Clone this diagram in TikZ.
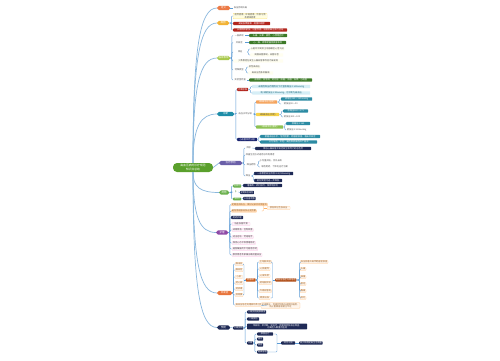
\documentclass[tikz,border=0pt]{standalone}
\usepackage{fontspec}
\setmainfont{Noto Sans CJK SC}
\definecolor{cOr}{HTML}{EC7A45}
\definecolor{cYe}{HTML}{F2B233}
\definecolor{cYg}{HTML}{A8C84A}
\definecolor{cTe}{HTML}{1E8DA8}
\definecolor{cPu}{HTML}{6A5FA8}
\definecolor{cGr}{HTML}{6AB04C}
\definecolor{cMa}{HTML}{8E4AA6}
\definecolor{cOr2}{HTML}{E8743B}
\definecolor{cDor}{HTML}{C75A1B}
\definecolor{cBrn}{HTML}{B04E18}
\definecolor{cNv}{HTML}{1F2A56}
\definecolor{cRd}{HTML}{B3261E}
\definecolor{cDg}{HTML}{3D7A28}
\definecolor{cTb}{HTML}{2C8BA3}
\definecolor{cLb}{HTML}{D6EEF6}
\definecolor{cLine}{HTML}{5B9BD5}
\definecolor{cTrunk}{HTML}{8AB8DE}
\definecolor{cCenter}{HTML}{5AA02C}
\definecolor{cTxt}{HTML}{4D4D4D}
\definecolor{cOb}{HTML}{F5A35C}
\definecolor{cYb}{HTML}{F6D24A}
\definecolor{cGb}{HTML}{8CC152}
\tikzset{
  base/.style={font=\fontsize{2.2}{2.6}\selectfont, inner xsep=0.7pt, inner ysep=0.5pt,
    rounded corners=0.6pt, anchor=west, align=center},
  mw/.style={minimum width=#1pt},
  br/.style={base, text=white, fill=#1, rounded corners=1.8pt, minimum height=4.2pt,
    font=\fontsize{2.5}{3}\selectfont},
  bx/.style={base, text=white, fill=#1},
  tx/.style={base, text=cTxt},
  pg/.style={base, text=cTxt, fill=#1},
  peach/.style={base, text=brown!80!black, fill=orange!8, draw=orange!45, line width=0.2pt},
  pink/.style={base, text=cTxt, fill=magenta!5, draw=magenta!25, line width=0.2pt},
  conn/.style={draw=cLine, line width=0.35pt, rounded corners=1pt},
  trunk/.style={draw=cTrunk, line width=0.7pt}
}
\begin{document}
\begin{tikzpicture}[x=1pt,y=-1pt]
\path[use as bounding box, fill=white] (0,0) rectangle (500,360);

% center
\node[fill=cCenter, text=white, rounded corners=4pt, minimum width=40pt, minimum height=9pt,
  font=\fontsize{2.8}{3.4}\selectfont, align=center, inner sep=0.5pt] (c) at (193,167.5)
  {高血压病的诊疗规范\\知识点总结};

% branches
\node[br=cOr, mw=13] (B1) at (217,8) {定义};
\node[br=cYe, mw=12] (B2) at (217,23) {病因};
\node[br=cYg, mw=13] (B3) at (217,58) {临床表现};
\node[br=cTe, mw=17] (B4) at (217,114) {诊断};
\node[br=cPu, mw=23] (B5) at (219,163) {治疗原则};
\node[br=cGr, mw=10] (B6) at (219,192.5) {药物};
\node[br=cMa, mw=12] (B7) at (216,232.5) {护理};
\node[br=cOr2, mw=15] (B8) at (217,293) {并发症};
\node[br=cNv, mw=13] (B9) at (217,327.5) {预防};

% trunk
\draw[trunk] (c.north) .. controls (193,47) and (200,8) .. (B1.west);
\draw[trunk] (c.north) .. controls (193,58) and (200,23) .. (B2.west);
\draw[trunk] (c.north) .. controls (193,84) and (200,58) .. (B3.west);
\draw[trunk] (c.north) .. controls (193,126) and (201,114) .. (B4.west);
\draw[trunk] (c.east) -- (B5.west);
\draw[trunk] (c.south) .. controls (193,187) and (200,192.5) .. (B6.west);
\draw[trunk] (c.south) .. controls (193,217.5) and (200,232.5) .. (B7.west);
\draw[trunk] (c.south) .. controls (193,263) and (200,293) .. (B8.west);
\draw[trunk] (c.south) .. controls (193,288.5) and (200,327.5) .. (B9.west);

% B1
\node[tx, mw=14] (t1) at (233,8) {血压持续升高};
\draw[conn] (B1.east) -- (t1.west);

% B2
\node[base, text=cTxt, fill=yellow!12, draw=yellow!60!orange!50, line width=0.2pt, mw=34] (y1) at (233,16) {遗传因素、环境因素、饮食习惯\\及精神因素};
\node[bx=cRd, mw=37] (r1) at (233,23.5) {高钠低钾膳食、超重和肥胖};
\node[bx=cRd, mw=54] (r2) at (233,30) {长期精神紧张、过量饮酒、吸烟及缺乏体力活动};
\foreach \n in {y1,r1,r2} \draw[conn] (B2.east) -- ++(2,0) |- (\n.west);

% B3
\node[tx, mw=12] (g1t) at (233,35.5) {一般表现};
\node[bx=cDg, mw=38] (g1) at (249,35.5) {头痛、头晕、疲劳、心悸等症状};
\node[tx, mw=12] (g2t) at (233,42.5) {并发症};
\node[bx=cDg, mw=37] (g2) at (249,42.5) {心、脑、肾等靶器官损害表现};
\node[tx, mw=14] (g3t) at (233,52) {体征};
\node[pg=yellow!6, mw=33] (g3a) at (250,49) {心脏听诊闻及主动脉瓣区心音亢进};
\node[pg=yellow!6, mw=33] (g3b) at (250,55) {周围血管搏动、血管杂音};
\node[pg=yellow!6, mw=50] (g4t) at (233,61) {少数患者在发生心脑血管事件后才被发现};
\node[tx, mw=12] (g5t) at (233,70) {特殊类型};
\node[pg=yellow!6, mw=12] (g5a) at (248,67) {恶性高血压};
\node[pg=yellow!6, mw=25] (g5b) at (248,73) {高血压危象及脑病};
\node[tx, mw=14] (g6t) at (233,80) {实验室检查};
\node[bx=cDg, mw=63] (g6) at (249,80) {血常规、尿常规、肾功能、血糖、血脂、血钾、心电图};
\foreach \n in {g1t,g2t,g3t,g4t,g5t,g6t} \draw[conn] (B3.east) -- ++(1.5,0) |- (\n.west);
\draw[conn] (g1t.east) -- (g1.west);
\draw[conn] (g2t.east) -- (g2.west);
\foreach \n in {g3a,g3b} \draw[conn] (g3t.east) -- ++(1,0) |- (\n.west);
\foreach \n in {g5a,g5b} \draw[conn] (g5t.east) -- ++(1,0) |- (\n.west);
\draw[conn] (g6t.east) -- (g6.west);

% B4
\node[bx=cRd, mw=11] (tr) at (237,89.5) {诊断标准};
\node[base, text=cTe!70!black, fill=cLb, mw=58] (lb1) at (252,86.5) {未使用降压药物情况下诊室收缩压≥140mmHg};
\node[base, text=cTe!70!black, fill=cLb, mw=58] (lb2) at (252,93) {和/或舒张压≥90mmHg，可诊断为高血压};
\node[tx, mw=16] (tt) at (237,114) {血压水平分级};
\node[bx=cOb, mw=21] (o1) at (256,102) {1级高血压(轻度)};
\node[bx=cTb, mw=31] (tb1) at (281,99) {收缩压140～159mmHg};
\node[tx, mw=19] (tx1) at (281,104) {舒张压90～99};
\node[base, text=cTxt, fill=cYb, mw=23] (y1b) at (256,114.5) {2级高血压(中度)};
\node[bx=cTb, mw=25] (tb2) at (283,111) {收缩压160～179};
\node[tx, mw=17] (tx2) at (283,117) {舒张压100～109};
\node[bx=cGb, mw=27] (gr1) at (256,127) {3级高血压(重度)};
\node[bx=cTb, mw=24] (tb3) at (286,123.5) {收缩压≥180};
\node[tx, mw=21] (tx3) at (286,130) {舒张压≥110mmHg};
\node[bx=cNv!85!blue, mw=20] (tn) at (237,139.5) {心血管风险分层};
\node[bx=cTb, mw=60] (tb4) at (260,136.5) {根据血压水平、危险因素、靶器官损害、临床并发症};
\node[bx=cTb, mw=57] (tb5) at (260,142) {分为低危、中危、高危和很高危四个层次};
\foreach \n in {tr,tt,tn} \draw[conn] (B4.east) -- ++(1.5,0) |- (\n.west);
\foreach \n in {lb1,lb2} \draw[conn] (tr.east) -- ++(2,0) |- (\n.west);
\foreach \n in {o1,y1b,gr1} \draw[conn] (tt.east) -- ++(1.5,0) |- (\n.west);
\foreach \n in {tb1,tx1} \draw[conn] (o1.east) -- ++(2,0) |- (\n.west);
\foreach \n in {tb2,tx2} \draw[conn] (y1b.east) -- ++(2,0) |- (\n.west);
\foreach \n in {tb3,tx3} \draw[conn] (gr1.east) -- ++(1.5,0) |- (\n.west);
\foreach \n in {tb4,tb5} \draw[conn] (tn.east) -- ++(1.5,0) |- (\n.west);

% B5
\node[tx, mw=7] (p1t) at (245,148) {目标};
\node[bx=cNv, mw=56] (p1) at (255,148.5) {降低心脑血管并发症发生和死亡的总危险};
\node[tx, mw=28] (p2t) at (245,155) {改善生活方式适用于所有患者};
\node[tx, mw=12] (p3t) at (245,165) {降压药物};
\node[tx, mw=22] (p3a) at (259,161) {小剂量开始，优先长效};
\node[tx, mw=31] (p3b) at (259,167) {联合用药，个体化治疗方案};
\node[tx, mw=5] (p4t) at (245,176) {降压};
\node[bx=cNv, mw=39] (p4a) at (254,173.5) {一般患者血压目标<140/90mmHg};
\node[bx=cNv, mw=28] (p4b) at (254,180.5) {能耐受者可进一步降低};
\foreach \n in {p1t,p2t,p3t,p4t} \draw[conn] (B5.east) -- ++(1.5,0) |- (\n.west);
\draw[conn] (p1t.east) -- (p1.west);
\foreach \n in {p3a,p3b} \draw[conn] (p3t.east) -- ++(1,0) |- (\n.west);
\foreach \n in {p4a,p4b} \draw[conn] (p4t.east) -- ++(2,0) |- (\n.west);

% B6
\node[bx=cGr, mw=8] (q1) at (233,186) {利尿剂};
\node[bx=cNv, mw=39] (q1n) at (243,185.5) {噻嗪类、袢利尿剂、保钾利尿剂};
\node[base, text=cGr!80!black, mw=5] (q2) at (233,192) {β};
\node[bx=cNv, mw=13] (q2n) at (240,192.5) {β受体阻滞剂};
\node[bx=cGr, mw=8] (q3) at (233,199) {ACEI};
\node[bx=cNv, mw=12] (q3n) at (243,198.5) {卡托普利等};
\foreach \n in {q1,q2,q3} \draw[conn] (B6.east) -- ++(2,0) |- (\n.west);
\draw[conn] (q1.east) -- (q1n.west);
\draw[conn] (q2.east) -- (q2n.west);
\draw[conn] (q3.east) -- (q3n.west);

% B7
\node[base, text=brown!80!black, fill=orange!30, mw=30] (m1) at (231,204.5) {定期监测血压，做好记录并观察变化};
\node[base, text=brown!80!black, fill=orange!30, mw=22] (m2) at (231,211) {避免情绪激动及过度劳累};
\node[peach, mw=23] (m1a) at (267,208) {预防体位性低血压};
\node[bx=cNv, mw=12] (m3) at (231,217.5) {用药护理};
\node[pink, mw=18] (m4) at (232,224) {低盐低脂饮食};
\node[pink, mw=20] (m5) at (232,230) {戒烟限酒，控制体重};
\node[pink, mw=21] (m6) at (232,237) {适当运动，劳逸结合};
\node[pink, mw=23] (m7) at (232,243) {保持心态平和情绪稳定};
\node[pink, mw=23] (m8) at (232,249) {遵医嘱服药不可随意停药};
\node[pink, mw=25] (m9) at (232,255) {教会患者及家属正确测量血压};
\foreach \n in {m1,m2,m3,m4,m5,m6,m7,m8,m9} \draw[conn] (B7.east) -- ++(1.5,0) |- (\n.west);
\draw[conn, draw=orange!60] (261.5,204.5) -- (263.5,204.5) -- (263.5,211) -- (261.5,211);
\coordinate (mb) at (263.5,208);
\draw[conn, draw=orange!60] (mb) -- (m1a.west);

% B8
\node[peach, mw=7.5] (n1) at (235,264) {脑出血};
\node[peach, mw=7.5] (n2) at (235,270) {脑血栓};
\node[peach, mw=7.5] (n3) at (235,277) {心衰};
\node[peach, mw=7.5] (n4) at (235,283) {冠心病};
\node[peach, mw=7.5] (n5) at (235,289) {肾衰竭};
\node[peach, mw=7.5] (n6) at (235,295) {视网膜};
\node[peach, mw=23] (n7) at (235,305) {高血压急症处理原则及注意事项};
\node[peach, mw=32] (n7a) at (261,305.5) {迅速降压，但需控制降压速度和幅度，\\防止重要器官灌注不足};
\foreach \n in {n1,n2,n3,n4,n5,n6,n7} \draw[conn] (B8.east) -- ++(1,0) |- (\n.west);
\draw[conn] (n7.east) -- (n7a.west);
\draw[conn] (243,264) -- (244,264) -- (244,295) -- (243,295);
\coordinate (nb1) at (244,280);
\node[bx=cDor, mw=10] (nd) at (245.5,280) {靶器官};
\draw[conn] (nb1) -- (nd.west);
\node[peach, mw=11] (k1) at (259,262) {主动脉夹层};
\node[peach, mw=11] (k2) at (259,269) {心肌梗死};
\node[peach, mw=11] (k3) at (259,276) {心律失常};
\node[peach, mw=11] (k4) at (259,283) {肾动脉狭窄};
\node[peach, mw=11] (k5) at (259,291) {外周血管病};
\node[peach, mw=11] (k6) at (259,298) {眼底出血};
\foreach \n in {k1,k2,k3,k4,k5,k6} \draw[conn] (nd.east) -- ++(1.5,0) |- (\n.west);
\draw[conn] (271,262) -- (272.5,262) -- (272.5,298) -- (271,298);
\coordinate (nb2) at (272.5,280);
\node[bx=cBrn, mw=18] (nb) at (275,280) {高血压急症与亚急症};
\draw[conn] (nb2) -- (nb.west);
\node[peach, mw=20] (rr1) at (300,262) {血压显著升高伴靶器官损害};
\node[peach, mw=5] (rr2) at (300,269) {头痛};
\node[peach, mw=5] (rr3) at (300,277) {抽搐};
\node[peach, mw=5] (rr4) at (300,284) {昏迷};
\node[peach, mw=5] (rr5) at (300,291) {胸痛};
\node[peach, mw=5] (rr6) at (300,298) {呕吐};
\foreach \n in {rr1,rr2,rr3,rr4,rr5,rr6} \draw[conn] (nb.east) -- ++(3,0) |- (\n.west);

% B9
\node[bx=cNv, mw=10] (nn) at (233,328) {三级预防};
\draw[conn] (B9.east) -- (nn.west);
\node[bx=cNv, mw=16] (s1) at (247,312) {一级预防健康教育};
\node[bx=cNv, mw=12] (s2) at (247,319) {二级预防};
\node[bx=cNv, mw=60] (s3) at (247,326.5) {早发现、早诊断、早治疗，定期体检及血压筛查，\\对高危人群重点监测};
\node[bx=cNv, mw=6] (s4) at (247,343) {三级};
\foreach \n in {s1,s2,s3,s4} \draw[conn] (nn.east) -- ++(1.5,0) |- (\n.west);
\node[bx=cNv, mw=16] (u1) at (257,334) {康复治疗};
\node[bx=cNv, mw=6] (u2) at (257,339) {随访};
\node[bx=cNv, mw=6] (u3) at (257,345) {复查};
\node[bx=cNv, mw=9] (u4) at (257,352) {健康管理};
\foreach \n in {u1,u2,u3,u4} \draw[conn] (s4.east) -- ++(1.5,0) |- (\n.west);
\draw[conn] (274,334) -- (277,334) -- (277,352) -- (267,352);
\coordinate (sb) at (277,343);
\node[bx=cNv, mw=14] (sm) at (281,343) {综合干预};
\draw[conn] (sb) -- (sm.west);
\node[bx=cNv, mw=18] (sm2) at (299,343) {减少残疾提高生活质量};
\draw[conn] (sm.east) -- (sm2.west);
\end{tikzpicture}
\end{document}
